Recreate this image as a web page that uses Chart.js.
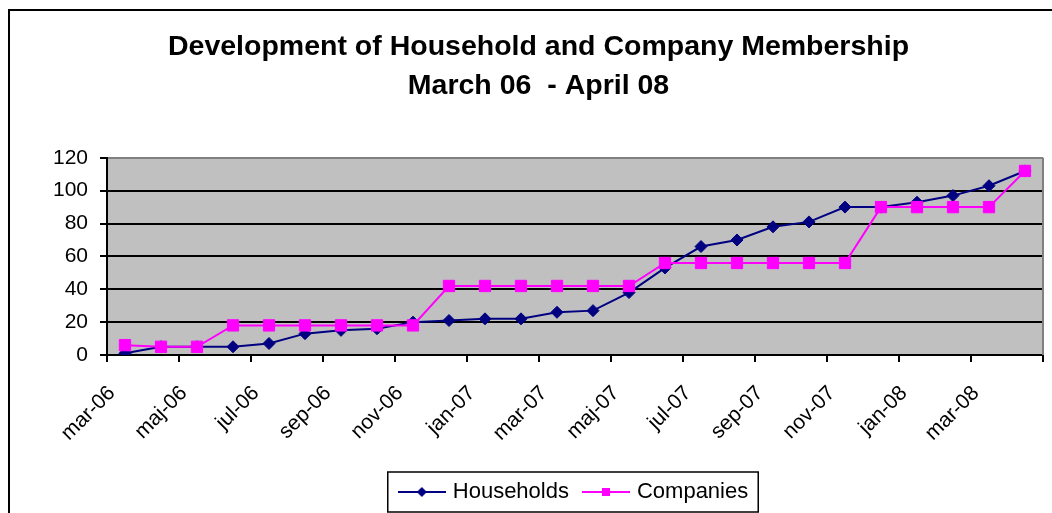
<!DOCTYPE html>
<html>
<head>
<meta charset="utf-8">
<script src="https://cdn.jsdelivr.net/npm/chart.js@4.4.0/dist/chart.umd.min.js"></script>
<style>
  html, body { margin: 0; padding: 0; background: #fff; }
</style>
</head>
<body>
<canvas id="myChart" width="1052" height="513"></canvas>
<script>
var months = ["mar-06", "apr-06", "maj-06", "jun-06", "jul-06", "aug-06", "sep-06", "okt-06", "nov-06", "dec-06",
    "jan-07", "feb-07", "mar-07", "apr-07", "maj-07", "jun-07", "jul-07", "aug-07", "sep-07", "okt-07", "nov-07", "dec-07",
    "jan-08", "feb-08", "mar-08", "apr-08"];
var households = [1, 5, 5, 5, 7, 13, 15, 16, 20, 21, 22, 22, 26, 27, 38, 53, 66, 70, 78, 81, 90, 90, 93, 97, 103, 112];
var companies = [6, 5, 5, 18, 18, 18, 18, 18, 18, 42, 42, 42, 42, 42, 42, 56, 56, 56, 56, 56, 56, 90, 90, 90, 90, 112];
var titleLines = ["Development of Household and Company Membership", "March 06  - April 08"];

var FONT = "'Liberation Sans', Arial, sans-serif";

// small line+marker pictures for the legend
function legendSymbol(color, shape) {
    var c = document.createElement("canvas");
    c.width = 48; c.height = 16;
    var g = c.getContext("2d");
    g.strokeStyle = color; g.lineWidth = 2;
    g.beginPath(); g.moveTo(0, 8); g.lineTo(48, 8); g.stroke();
    g.fillStyle = color;
    g.beginPath();
    if (shape === "diamond") {
        g.moveTo(24, 3); g.lineTo(29, 8); g.lineTo(24, 13); g.lineTo(19, 8); g.closePath();
    } else {
        g.rect(20, 4, 8, 8);
    }
    g.fill();
    return c;
}
var symbols = [legendSymbol("#000080", "diamond"), legendSymbol("#ff00ff", "square")];

var excelLook = {
    id: "excelLook",
    beforeDraw: function (chart) {
        var ctx = chart.ctx, a = chart.chartArea;
        ctx.save();
        ctx.fillStyle = "#fff";
        ctx.fillRect(0, 0, chart.width, chart.height);
        ctx.fillStyle = "#c0c0c0";
        ctx.fillRect(a.left, a.top, a.right - a.left, a.bottom - a.top);
        // outer chart border (cut off at right and bottom)
        ctx.strokeStyle = "#000"; ctx.lineWidth = 2;
        ctx.beginPath(); ctx.moveTo(9, chart.height); ctx.lineTo(9, 10); ctx.lineTo(chart.width, 10); ctx.stroke();
        ctx.restore();
    },
    beforeDatasetsDraw: function (chart) {
        var ctx = chart.ctx, a = chart.chartArea;
        ctx.save();
        ctx.strokeStyle = "#808080"; ctx.lineWidth = 2;
        ctx.beginPath(); ctx.moveTo(a.right, a.top); ctx.lineTo(a.right, a.bottom); ctx.stroke();
        ctx.restore();
    },
    afterDraw: function (chart) {
        var boxes = chart.legend.legendHitBoxes;
        if (!boxes || !boxes.length) return;
        var left = boxes[0].left, right = 0, mid = boxes[0].top + boxes[0].height / 2;
        boxes.forEach(function (b) { right = Math.max(right, b.left + b.width); });
        var ctx = chart.ctx;
        ctx.save();
        ctx.strokeStyle = "#000"; ctx.lineWidth = 1.5;
        ctx.strokeRect(left - 14, mid - 20, right - left + 24, 40);
        ctx.restore();
    }
};

new Chart("myChart", {
    type: "line",
    data: {
        labels: months,
        datasets: [{
            label: "Households",
            data: households,
            borderColor: "#000080",
            backgroundColor: "#000080",
            borderWidth: 2,
            pointStyle: "rectRot",
            pointRadius: 6,
            pointHoverRadius: 6,
            pointBorderWidth: 1,
            order: 1
        }, {
            label: "Companies",
            data: companies,
            borderColor: "#ff00ff",
            backgroundColor: "#ff00ff",
            borderWidth: 2,
            pointStyle: "rect",
            pointRadius: 8,
            pointHoverRadius: 8,
            pointBorderWidth: 1,
            order: 0
        }]
    },
    options: {
        responsive: false,
        animation: false,
        layout: { padding: { top: 0, left: 28, right: 3, bottom: 0 } },
        plugins: {
            title: {
                display: true,
                text: titleLines,
                color: "#000",
                font: { family: FONT, size: 28.5, weight: "bold", lineHeight: 1.365 },
                padding: { top: 28, bottom: 52 }
            },
            legend: {
                position: "bottom",
                fullSize: false,
                labels: {
                    usePointStyle: true,
                    pointStyleWidth: 40,
                    boxHeight: 16,
                    padding: 17,
                    color: "#000",
                    font: { family: FONT, size: 22 },
                    sort: function (a, b) { return a.datasetIndex - b.datasetIndex; },
                    generateLabels: function (chart) {
                        var items = Chart.defaults.plugins.legend.labels.generateLabels(chart);
                        items.forEach(function (it) { it.pointStyle = symbols[it.datasetIndex]; });
                        return items;
                    }
                }
            },
            tooltip: { enabled: false }
        },
        scales: {
            x: {
                offset: true,
                afterFit: function (scale) {
                    scale.height = 109;
                    scale.paddingLeft = 0;
                    scale.paddingRight = 0;
                },
                border: { display: true, color: "#000", width: 2 },
                grid: {
                    offset: true,
                    drawOnChartArea: false,
                    tickLength: 7,
                    lineWidth: 2,
                    tickColor: function (ctx) {
                        return (ctx.index === undefined || ctx.index % 2 === 0) ? "#000" : "rgba(0,0,0,0)";
                    }
                },
                ticks: {
                    autoSkip: false,
                    minRotation: 45,
                    maxRotation: 45,
                    labelOffset: -13,
                    padding: 19,
                    color: "#000",
                    font: { family: FONT, size: 21 },
                    callback: function (v, i) { return i % 2 === 0 ? months[i] : ""; }
                }
            },
            y: {
                min: 0,
                max: 120,
                afterFit: function (scale) { scale.width = 79; },
                border: { display: true, color: "#000", width: 2 },
                grid: {
                    color: function (ctx) { return ctx.tick && ctx.tick.value === 120 ? "#808080" : "#000"; },
                    tickColor: "#000",
                    lineWidth: 2,
                    tickLength: 7
                },
                ticks: {
                    stepSize: 20,
                    padding: 12,
                    color: "#000",
                    font: { family: FONT, size: 21 }
                }
            }
        }
    },
    plugins: [excelLook]
});
</script>
</body>
</html>
